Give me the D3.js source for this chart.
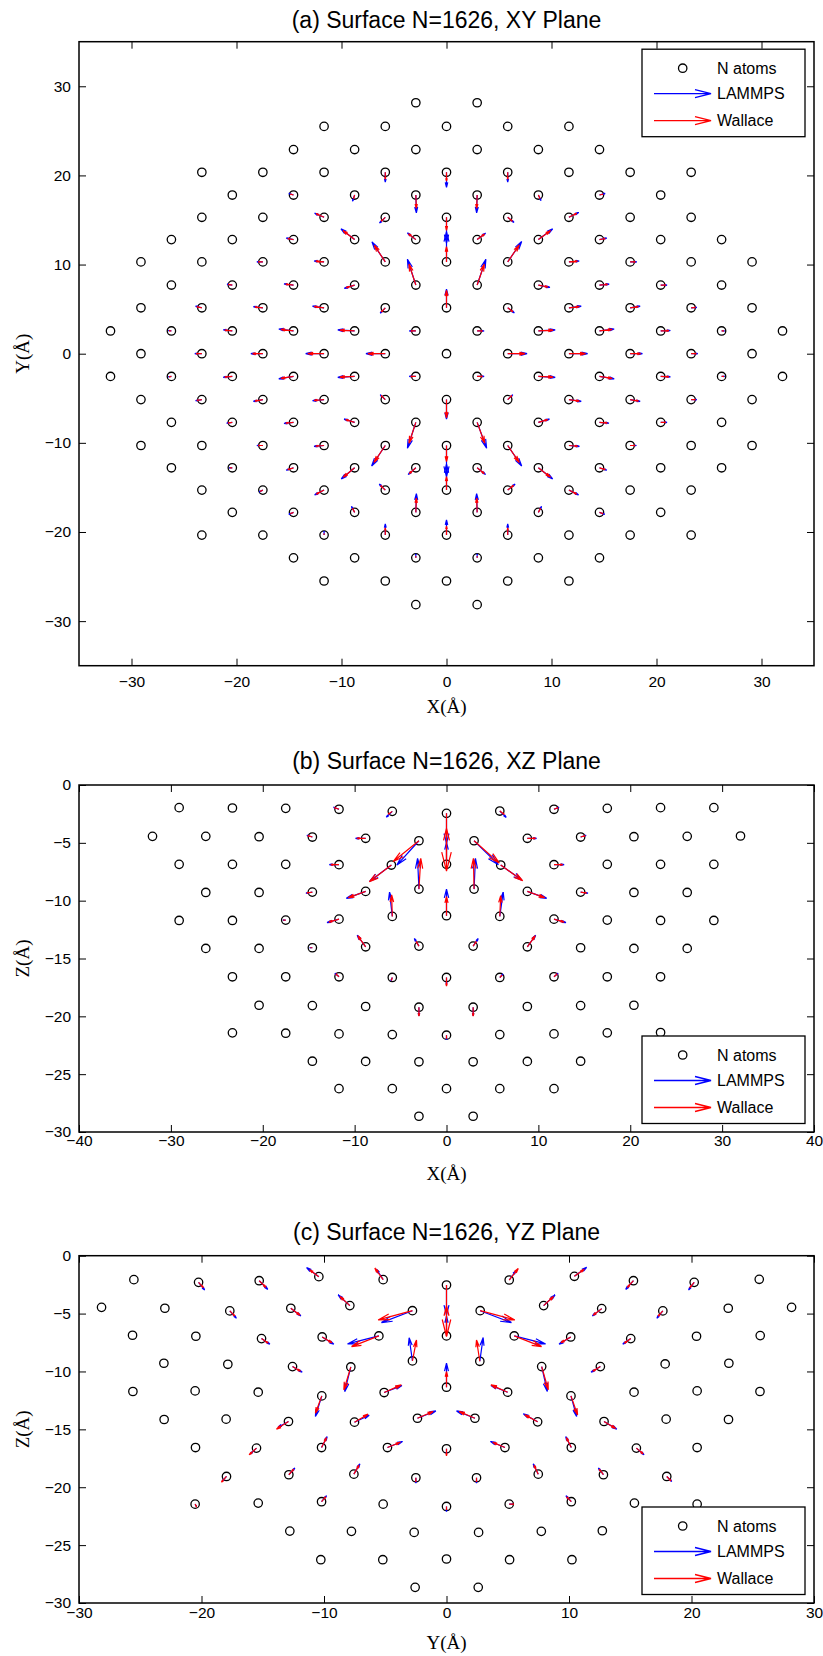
<!DOCTYPE html>
<html>
<head>
<meta charset="utf-8">
<script src="https://cdnjs.cloudflare.com/ajax/libs/d3/7.8.5/d3.min.js"></script>
<style>
    body { margin: 0; background: #fff; }
    svg { display: block; }
</style>
</head>
<body>
<script>
"use strict";
(function(){
    // ---------- (a) XY plane: atoms row by row ----------
    const xyRowY = [28.15, 25.5, 22.9, 20.35, 17.8, 15.3, 12.8, 10.3, 7.7, 5.15, 2.55, 0,
        -2.55, -5.15, -7.7, -10.3, -12.8, -15.3, -17.8, -20.35, -22.9, -25.5, -28.15]
    const xyRowX = [
        [-2.92, 2.92],
        [-11.66, -5.83, 0, 5.83, 11.66],
        [-14.57, -8.75, -2.92, 2.92, 8.75, 14.57],
        [-23.3, -17.49, -11.66, -5.83, 0, 5.83, 11.66, 17.49, 23.3],
        [-20.4, -14.57, -8.75, -2.92, 2.92, 8.75, 14.57, 20.4],
        [-23.3, -17.49, -11.66, -5.83, 0, 5.83, 11.66, 17.49, 23.3],
        [-26.2, -20.4, -14.57, -8.75, -2.92, 2.92, 8.75, 14.57, 20.4, 26.2],
        [-29.1, -23.3, -17.49, -11.66, -5.83, 0, 5.83, 11.66, 17.49, 23.3, 29.1],
        [-26.2, -20.4, -14.57, -8.75, -2.92, 2.92, 8.75, 14.57, 20.4, 26.2],
        [-29.1, -23.3, -17.49, -11.66, -5.83, 0, 5.83, 11.66, 17.49, 23.3, 29.1],
        [-32.0, -26.2, -20.4, -14.57, -8.75, -2.92, 2.92, 8.75, 14.57, 20.4, 26.2, 32.0],
        [-29.1, -23.3, -17.49, -11.66, -5.83, 0, 5.83, 11.66, 17.49, 23.3, 29.1],
        [-32.0, -26.2, -20.4, -14.57, -8.75, -2.92, 2.92, 8.75, 14.57, 20.4, 26.2, 32.0],
        [-29.1, -23.3, -17.49, -11.66, -5.83, 0, 5.83, 11.66, 17.49, 23.3, 29.1],
        [-26.2, -20.4, -14.57, -8.75, -2.92, 2.92, 8.75, 14.57, 20.4, 26.2],
        [-29.1, -23.3, -17.49, -11.66, -5.83, 0, 5.83, 11.66, 17.49, 23.3, 29.1],
        [-26.2, -20.4, -14.57, -8.75, -2.92, 2.92, 8.75, 14.57, 20.4, 26.2],
        [-23.3, -17.49, -11.66, -5.83, 0, 5.83, 11.66, 17.49, 23.3],
        [-20.4, -14.57, -8.75, -2.92, 2.92, 8.75, 14.57, 20.4],
        [-23.3, -17.49, -11.66, -5.83, 0, 5.83, 11.66, 17.49, 23.3],
        [-14.57, -8.75, -2.92, 2.92, 8.75, 14.57],
        [-11.66, -5.83, 0, 5.83, 11.66],
        [-2.92, 2.92]
    ]

    // arrows: [x, y, LAMMPS dx, LAMMPS dy, Wallace dx, Wallace dy]
    const xyArrows = [
        [-5.83, 20.35, 0, -1.1, 0, -0.8], [0, 20.35, 0, -1.7, 0, -1.0], [5.83, 20.35, 0, -1.1, 0, -0.8],
        [-8.75, 17.8, -0.2, -0.7, -0.1, -0.4], [-2.92, 17.8, 0.05, -2.0, 0.05, -1.5],
        [2.92, 17.8, -0.05, -2.0, -0.05, -1.5], [8.75, 17.8, 0.25, -0.63, 0.15, -0.4],
        [-14.57, 17.8, -0.45, 0.18, -0.3, 0.1], [14.57, 17.8, 0.54, 0.18, 0.35, 0.1],
        [-11.66, 15.3, -0.9, 0.45, -0.75, 0.4], [-5.83, 15.3, -0.55, -0.65, -0.4, -0.45],
        [0, 15.3, 0, -2.9, 0, -1.45], [5.83, 15.3, 0.6, -0.58, 0.45, -0.45],
        [11.66, 15.3, 0.92, 0.54, 0.75, 0.45],
        [-14.57, 12.8, -0.7, 0.18, -0.55, 0.12], [-8.75, 12.8, -1.3, 1.2, -1.1, 1.0],
        [-2.92, 12.8, -0.8, 0.75, -0.7, 0.65], [2.92, 12.8, 0.8, 0.72, 0.7, 0.62],
        [8.75, 12.8, 1.36, 1.2, 1.15, 1.0], [14.57, 12.8, 0.7, 0.18, 0.55, 0.12],
        [-17.49, 10.3, -0.57, 0, -0.45, 0], [-11.66, 10.3, -0.95, 0.1, -0.8, 0.08],
        [-5.83, 10.3, -1.27, 2.24, -1.05, 1.87], [0, 10.3, 0, 3.4, 0, 1.7],
        [5.83, 10.3, 1.33, 2.28, 1.1, 1.9], [11.66, 10.3, 0.98, 0.1, 0.82, 0.08],
        [17.49, 10.3, 0.63, 0, 0.5, 0],
        [-20.4, 7.7, -0.5, 0.1, -0.4, 0.08], [-14.57, 7.7, -0.9, 0.13, -0.75, 0.1],
        [-8.75, 7.7, -0.98, -0.37, -0.82, -0.3], [-2.92, 7.7, -0.8, 2.9, -0.65, 2.35],
        [2.92, 7.7, 0.83, 2.9, 0.68, 2.35], [8.75, 7.7, 1.1, -0.27, 0.92, -0.22],
        [14.57, 7.7, 0.92, 0.1, 0.78, 0.08], [20.4, 7.7, 0.6, 0, 0.48, 0],
        [-23.3, 5.15, -0.6, 0.18, -0.48, 0.12], [-17.49, 5.15, -0.9, 0.13, -0.75, 0.1],
        [-11.66, 5.15, -1.1, 0.18, -0.95, 0.14], [-5.83, 5.15, -0.48, -0.6, -0.38, -0.48],
        [0, 5.15, 0, 2.1, 0, 1.95], [5.83, 5.15, 0.63, -0.58, 0.5, -0.45],
        [11.66, 5.15, 1.17, 0.18, 1.0, 0.14], [17.49, 5.15, 0.95, 0.18, 0.8, 0.14],
        [23.3, 5.15, 0.54, 0.05, 0.42, 0.04],
        [-26.2, 2.55, -0.3, 0.05, -0.22, 0.04], [-20.4, 2.55, -0.86, 0.13, -0.72, 0.1],
        [-14.57, 2.55, -1.4, 0.22, -1.2, 0.18], [-8.75, 2.55, -1.6, 0.13, -1.4, 0.1],
        [-2.92, 2.55, -0.63, 0, -0.5, 0], [2.92, 2.55, 0.66, 0, 0.52, 0],
        [8.75, 2.55, 1.6, 0.13, 1.4, 0.1], [14.57, 2.55, 1.4, 0.22, 1.2, 0.18],
        [20.4, 2.55, 0.92, 0.05, 0.78, 0.04], [26.2, 2.55, 0.3, 0, 0.22, 0],
        [-23.3, 0, -0.67, 0, -0.55, 0], [-17.49, 0, -1.14, 0, -0.98, 0],
        [-11.66, 0, -1.75, 0, -1.55, 0], [-5.83, 0, -1.84, 0, -1.65, 0],
        [5.83, 0, 1.84, 0, 1.65, 0], [11.66, 0, 1.78, 0, 1.58, 0],
        [17.49, 0, 1.17, 0, 1.0, 0], [23.3, 0, 0.63, 0, 0.5, 0],
        [-26.2, -2.55, -0.3, -0.05, -0.22, -0.04], [-20.4, -2.55, -0.86, -0.1, -0.72, -0.08],
        [-14.57, -2.55, -1.4, -0.27, -1.2, -0.22], [-8.75, -2.55, -1.6, -0.1, -1.4, -0.08],
        [-2.92, -2.55, -0.63, 0, -0.5, 0], [2.92, -2.55, 0.66, 0, 0.52, 0],
        [8.75, -2.55, 1.6, -0.1, 1.4, -0.08], [14.57, -2.55, 1.4, -0.27, 1.2, -0.22],
        [20.4, -2.55, 0.92, -0.05, 0.78, -0.04], [26.2, -2.55, 0.3, 0, 0.22, 0],
        [-23.3, -5.15, -0.6, -0.13, -0.48, -0.1], [-17.49, -5.15, -0.9, -0.2, -0.75, -0.16],
        [-11.66, -5.15, -1.1, -0.13, -0.95, -0.1], [-5.83, -5.15, -0.48, 0.54, -0.38, 0.44],
        [0, -5.15, 0, -2.2, 0, -2.05], [5.83, -5.15, 0.48, 0.54, 0.38, 0.44],
        [11.66, -5.15, 1.17, -0.2, 1.0, -0.16], [17.49, -5.15, 0.95, -0.2, 0.8, -0.16],
        [23.3, -5.15, 0.54, 0, 0.42, 0],
        [-20.4, -7.7, -0.54, -0.1, -0.42, -0.08], [-14.57, -7.7, -0.9, -0.13, -0.75, -0.1],
        [-8.75, -7.7, -1.0, 0.36, -0.85, 0.3], [-2.92, -7.7, -0.8, -2.9, -0.65, -2.35],
        [2.92, -7.7, 0.9, -2.9, 0.72, -2.35], [8.75, -7.7, 1.05, 0.36, 0.88, 0.3],
        [14.57, -7.7, 0.9, -0.1, 0.75, -0.08], [20.4, -7.7, 0.6, 0, 0.48, 0],
        [-17.49, -10.3, -0.57, 0, -0.45, 0], [-11.66, -10.3, -0.95, -0.1, -0.8, -0.08],
        [-5.83, -10.3, -1.3, -2.3, -1.08, -1.9], [0, -10.3, 0, -3.5, 0, -1.8],
        [5.83, -10.3, 1.33, -2.3, 1.1, -1.9], [11.66, -10.3, 1.0, -0.1, 0.84, -0.08],
        [17.49, -10.3, 0.6, 0, 0.48, 0],
        [-20.4, -12.8, -0.3, 0, -0.22, 0], [-14.57, -12.8, -0.7, -0.27, -0.55, -0.2],
        [-8.75, -12.8, -1.27, -1.25, -1.08, -1.05], [-2.92, -12.8, -0.73, -0.76, -0.62, -0.65],
        [2.92, -12.8, 0.8, -0.76, 0.68, -0.65], [8.75, -12.8, 1.36, -1.25, 1.15, -1.05],
        [14.57, -12.8, 0.7, -0.27, 0.55, -0.2],
        [-17.49, -15.3, -0.35, -0.2, -0.25, -0.15], [-11.66, -15.3, -0.9, -0.54, -0.75, -0.45],
        [-5.83, -15.3, -0.57, 0.67, -0.45, 0.52], [0, -15.3, 0, 2.9, 0, 1.5],
        [5.83, -15.3, 0.7, 0.67, 0.55, 0.52], [11.66, -15.3, 0.92, -0.54, 0.75, -0.45],
        [-14.57, -17.8, -0.45, -0.22, -0.3, -0.15], [-8.75, -17.8, -0.3, 0.67, -0.2, 0.45],
        [-2.92, -17.8, 0.05, 2.1, 0.05, 1.6], [2.92, -17.8, -0.05, 2.1, -0.05, 1.6],
        [8.75, -17.8, 0.3, 0.67, 0.2, 0.45], [14.57, -17.8, 0.5, -0.22, 0.35, -0.15],
        [-11.66, -20.35, 0, 0.45, 0, 0.2], [-5.83, -20.35, 0, 1.25, 0, 0.8],
        [0, -20.35, 0, 1.7, 0, 1.0], [5.83, -20.35, 0, 1.25, 0, 0.8],
        [-2.92, -22.9, 0, 0.45, 0, 0.2], [2.92, -22.9, 0, 0.45, 0, 0.2]
    ]

    // ---------- (b) XZ plane ----------
    const xzAtoms = [
        [-29.1, -1.96], [-23.3, -1.99], [-17.5, -2.02], [-11.7, -2.1], [-5.9, -2.28], [0, -2.45],
        [5.8, -2.25], [11.7, -2.1], [17.5, -2.02], [23.3, -1.96], [29.1, -1.96],
        [-32.0, -4.44], [-26.2, -4.44], [-20.4, -4.47], [-14.6, -4.5], [-8.8, -4.61], [-3.0, -4.82],
        [3.0, -4.82], [8.8, -4.61], [14.6, -4.5], [20.4, -4.47], [26.2, -4.44], [32.0, -4.41],
        [-29.1, -6.86], [-23.3, -6.86], [-17.5, -6.86], [-11.7, -6.89], [-6.0, -6.92], [0, -6.86],
        [5.9, -6.92], [11.7, -6.89], [17.5, -6.86], [23.3, -6.86], [29.1, -6.86],
        [-26.2, -9.29], [-20.4, -9.29], [-14.6, -9.26], [-8.8, -9.2], [-3.0, -9.0],
        [3.0, -9.0], [8.8, -9.2], [14.6, -9.26], [20.4, -9.29], [26.2, -9.29],
        [-29.1, -11.71], [-23.3, -11.71], [-17.5, -11.68], [-11.7, -11.6], [-5.9, -11.36], [0, -11.3],
        [5.8, -11.36], [11.7, -11.6], [17.5, -11.68], [23.3, -11.71], [29.1, -11.71],
        [-26.2, -14.13], [-20.4, -14.13], [-14.6, -14.07], [-8.8, -13.99], [-3.0, -13.93],
        [2.9, -13.93], [8.8, -13.99], [14.6, -14.07], [20.4, -14.13], [26.2, -14.13],
        [-23.3, -16.58], [-17.5, -16.58], [-11.7, -16.58], [-5.9, -16.64], [0, -16.64],
        [5.8, -16.64], [11.7, -16.58], [17.5, -16.58], [23.3, -16.58],
        [-20.4, -19.04], [-14.6, -19.07], [-8.8, -19.15], [-3.0, -19.21],
        [2.9, -19.21], [8.8, -19.15], [14.6, -19.07], [20.4, -19.04],
        [-23.3, -21.43], [-17.5, -21.46], [-11.7, -21.52], [-5.9, -21.58], [0, -21.63],
        [5.8, -21.58], [11.7, -21.52], [17.5, -21.43], [23.3, -21.4],
        [-14.6, -23.88], [-8.8, -23.9], [-3.0, -23.93], [2.9, -23.93], [8.8, -23.9], [14.6, -23.88],
        [-11.7, -26.25], [-5.9, -26.25], [0, -26.25], [5.8, -26.25], [11.7, -26.25],
        [-3.0, -28.64], [2.9, -28.64]
    ]
    const xzArrows = [
        [-11.7, -2.1, -0.6, 0.17, -0.5, 0.14], [-5.9, -2.28, -0.65, -0.5, -0.45, -0.25],
        [0, -2.45, 0, -2.6, 0, -5.0], [5.8, -2.25, 0.7, -0.55, 0.5, -0.3],
        [11.7, -2.1, 0.55, 0.17, 0.45, 0.14],
        [-14.6, -4.5, -0.6, 0.15, -0.5, 0.12], [-8.8, -4.61, -1.1, 0, -0.95, 0],
        [-3.0, -4.82, -2.4, -2.1, -2.8, -1.8], [3.0, -4.82, 2.65, -2.07, 2.75, -1.93],
        [8.8, -4.61, 1.0, 0, 0.9, 0], [14.6, -4.5, 0.6, 0.15, 0.5, 0.12],
        [-11.7, -6.89, -1.05, 0, -0.9, 0], [-6.0, -6.92, -2.35, -1.4, -2.4, -1.45],
        [0, -6.86, 0, 1.9, 0, 3.1], [5.9, -6.92, 2.3, -1.3, 2.4, -1.36],
        [11.7, -6.89, 1.1, 0, 0.95, 0],
        [-14.6, -9.26, -0.7, -0.1, -0.6, -0.08], [-8.8, -9.2, -2.1, -0.6, -1.9, -0.55],
        [-3.0, -9.0, -0.15, 2.65, 0.2, 2.65], [3.0, -9.0, 0.15, 2.65, -0.07, 2.65],
        [8.8, -9.2, 2.1, -0.6, 1.9, -0.55], [14.6, -9.26, 0.8, -0.1, 0.65, -0.08],
        [-17.5, -11.68, -0.3, 0, -0.25, 0], [-11.7, -11.6, -1.3, -0.3, -1.1, -0.25],
        [-5.9, -11.36, -0.3, 2.1, -0.07, 1.85], [0, -11.3, 0, 2.3, 0, 1.65],
        [5.8, -11.36, 0.37, 2.1, 0.1, 1.8], [11.7, -11.6, 1.3, -0.3, 1.1, -0.25],
        [-14.6, -14.07, -0.3, 0, -0.2, 0], [-8.8, -13.99, -0.92, 1.0, -0.85, 0.95],
        [-3.0, -13.93, -0.5, 0.66, -0.3, 0.4], [2.9, -13.93, 0.55, 0.66, 0.35, 0.4],
        [8.8, -13.99, 0.9, 1.0, 0.85, 0.95],
        [-11.7, -16.58, -0.45, 0.3, -0.35, 0.25], [-5.9, -16.64, -0.15, -0.3, -0.1, -0.25],
        [0, -16.64, 0, -0.6, 0, -0.75], [5.8, -16.64, 0.35, 0.3, 0.25, 0.2],
        [11.7, -16.58, 0.45, 0.3, 0.35, 0.25],
        [-3.0, -19.21, 0, -0.75, 0, -0.78], [2.9, -19.21, 0, -0.75, 0, -0.78],
        [0, -21.63, 0, -0.4, 0, -0.3]
    ]

    // ---------- (c) YZ plane ----------
    const yzAtoms = [
        [-25.52, -2.07], [-20.24, -2.3], [-15.29, -2.16], [-10.42, -1.81], [-5.17, -2.07], [0, -2.53],
        [5.12, -2.1], [10.44, -1.78], [15.26, -2.16], [20.22, -2.3], [25.53, -2.04],
        [-28.16, -4.46], [-22.99, -4.54], [-17.69, -4.77], [-12.71, -4.54], [-7.89, -4.31], [-2.78, -4.75],
        [2.75, -4.75], [7.93, -4.31], [12.67, -4.57], [17.66, -4.77], [23.0, -4.54], [28.17, -4.46],
        [-25.63, -6.87], [-20.46, -6.96], [-15.1, -7.16], [-10.15, -7.02], [-5.52, -6.93], [0, -6.93],
        [5.53, -6.93], [10.14, -7.02], [15.04, -7.16], [20.41, -6.96], [25.61, -6.9],
        [-23.07, -9.29], [-17.85, -9.38], [-12.57, -9.58], [-7.81, -9.61], [-2.78, -9.09],
        [2.72, -9.12], [7.77, -9.58], [12.56, -9.58], [17.85, -9.35], [23.05, -9.29],
        [-25.6, -11.73], [-20.52, -11.68], [-15.37, -11.79], [-10.18, -12.11], [-5.09, -11.82], [0, -11.36],
        [4.99, -11.79], [10.16, -12.11], [15.31, -11.79], [20.46, -11.68], [25.59, -11.73],
        [-23.05, -14.15], [-17.99, -14.12], [-12.9, -14.32], [-7.51, -14.38], [-2.37, -14.04],
        [2.32, -14.04], [7.44, -14.35], [12.86, -14.32], [17.93, -14.12], [23.02, -14.15],
        [-20.49, -16.57], [-15.51, -16.62], [-10.2, -16.57], [-4.82, -16.57], [0, -16.68],
        [4.77, -16.57], [10.19, -16.57], [15.5, -16.62], [20.46, -16.57],
        [-17.96, -19.07], [-12.87, -18.92], [-7.56, -18.87], [-2.5, -19.18],
        [2.45, -19.18], [7.49, -18.87], [12.81, -18.92], [17.98, -19.07],
        [-20.52, -21.46], [-15.37, -21.37], [-10.2, -21.25], [-5.17, -21.46], [0, -21.66],
        [5.12, -21.46], [10.19, -21.25], [15.34, -21.37], [20.46, -21.46],
        [-12.79, -23.79], [-7.76, -23.81], [-2.64, -23.9], [2.62, -23.9], [7.74, -23.81], [12.72, -23.76],
        [-10.26, -26.26], [-5.2, -26.26], [0, -26.2], [5.15, -26.26], [10.24, -26.26],
        [-2.56, -28.65], [2.59, -28.65]
    ]
    const yzArrows = [
        [-20.24, -2.3, 0.5, -0.66, 0.4, -0.46], [-15.29, -2.16, 0.7, -0.75, 0.55, -0.58],
        [-10.42, -1.81, -1.0, 0.78, -0.75, 0.58], [-5.17, -2.07, -0.55, 0.9, -0.68, 1.0],
        [0, -2.53, 0, -2.6, 0, -4.45], [5.12, -2.1, 0.55, 0.8, 0.74, 1.0],
        [10.44, -1.78, 1.0, 0.78, 0.8, 0.6], [15.26, -2.16, -0.63, -0.75, -0.5, -0.58],
        [20.22, -2.3, -0.46, -0.66, -0.36, -0.46],
        [-17.69, -4.77, 0.54, -0.63, 0.4, -0.43], [-12.71, -4.54, 0.82, -0.66, 0.75, -0.6],
        [-7.89, -4.31, -0.95, 0.92, -0.8, 0.78], [-2.78, -4.75, -2.53, -1.03, -2.8, -0.8],
        [2.75, -4.75, 2.55, -1.03, 2.83, -0.8], [7.93, -4.31, 0.93, 0.92, 0.8, 0.78],
        [12.67, -4.57, -0.76, -0.63, -0.7, -0.58], [17.66, -4.77, -0.49, -0.63, -0.38, -0.45],
        [-15.1, -7.16, 0.68, -0.49, 0.55, -0.4], [-10.15, -7.02, 0.95, -0.63, 0.8, -0.5],
        [-5.52, -6.93, -2.56, -0.69, -2.23, -0.92], [0, -6.93, 0, 1.7, 0, 2.6],
        [5.53, -6.93, 2.56, -0.69, 2.23, -0.92], [10.14, -7.02, -0.95, -0.63, -0.8, -0.5],
        [15.04, -7.16, -0.65, -0.49, -0.52, -0.4],
        [-12.57, -9.58, 0.79, -0.49, 0.65, -0.4], [-7.81, -9.61, -0.5, -2.13, -0.57, -1.98],
        [-2.78, -9.09, -0.27, 2.0, 0.33, 1.8], [2.72, -9.12, 0.27, 2.04, -0.27, 1.84],
        [7.77, -9.58, 0.46, -2.15, 0.54, -2.0], [12.56, -9.58, -0.76, -0.49, -0.62, -0.4],
        [-10.18, -12.11, -0.52, -1.78, -0.52, -1.5], [-5.09, -11.82, 1.45, 0.6, 1.4, 0.66],
        [0, -11.36, 0, 2.07, 0, 1.35], [4.99, -11.79, -1.36, 0.58, -1.36, 0.63],
        [10.16, -12.11, 0.46, -1.78, 0.54, -1.64],
        [-12.9, -14.32, -0.85, -0.5, -0.98, -0.66], [-7.51, -14.38, 1.2, 0.6, 1.1, 0.69],
        [-2.37, -14.04, 1.5, 0.63, 1.28, 0.58], [2.32, -14.04, -1.5, 0.63, -1.28, 0.58],
        [7.44, -14.35, -1.17, 0.69, -1.05, 0.6], [12.86, -14.32, 1.04, -0.66, 0.95, -0.6],
        [-15.51, -16.62, -0.5, -0.5, -0.6, -0.58], [-10.2, -16.57, 0.46, 0.95, 0.4, 0.85],
        [-4.82, -16.57, 1.22, 0.52, 1.05, 0.45], [0, -16.68, 0, -0.4, 0, -0.6],
        [4.77, -16.57, -1.17, 0.52, -1.0, 0.45], [10.19, -16.57, -0.46, 0.95, -0.4, 0.85],
        [15.5, -16.62, 0.63, -0.58, 0.55, -0.5],
        [-17.96, -19.07, -0.35, -0.4, -0.41, -0.49], [-12.87, -18.92, 0.49, 0.58, 0.4, 0.48],
        [-7.56, -18.87, 0.49, 0.89, 0.42, 0.78], [-2.5, -19.18, 0, -0.46, 0, -0.35],
        [2.45, -19.18, 0, -0.46, 0, -0.35], [7.49, -18.87, -0.41, 0.89, -0.35, 0.78],
        [12.81, -18.92, -0.41, 0.58, -0.35, 0.48], [17.98, -19.07, 0.41, -0.43, 0.35, -0.38],
        [-10.2, -21.25, 0.41, 0.52, 0.35, 0.42], [10.19, -21.25, -0.44, 0.52, -0.38, 0.42],
        [0, -21.66, 0, -0.45, 0, -0.3], [-20.52, -21.46, 0.1, -0.2, 0.12, -0.25],
        [5.12, -21.46, 0.3, 0, 0.38, 0]
    ]

    // tick values
    const xyTicks = [-30, -20, -10, 0, 10, 20, 30]
    const xzTicksX = [-40, -30, -20, -10, 0, 10, 20, 30, 40]
    const zTicks = [-30, -25, -20, -15, -10, -5, 0]
    const yzTicksX = [-30, -20, -10, 0, 10, 20, 30]
    const legendNames = ["N atoms", "LAMMPS", "Wallace"]

    // dimensions
    const measurements = {
        width: 823,
        height: 1656,
        left: 79,
        right: 814
    }
    const colors = { lammps: "#0000ff", wallace: "#ff0000", atom: "#000000" }
    const sans = "'Liberation Sans', Arial, Helvetica, sans-serif"
    const serif = "'Liberation Serif', 'Times New Roman', serif"

    const svgContainer = d3.select("body").append("svg")
        .attr("width", measurements.width)
        .attr("height", measurements.height)

    const xyAtoms = xyRowY.flatMap((y, i) => xyRowX[i].map(x => [x, y]))

    const panels = [
        { top: 41.7, bottom: 665.7, xDomain: [-35, 35], yDomain: [-35, 35],
          xTicks: xyTicks, yTicks: xyTicks, titleY: 28, tickPad: 10, xLabelY: 713,
          title: "(a) Surface N=1626, XY Plane", xLabel: "X(Å)", yLabel: "Y(Å)",
          legend: "top", atoms: xyAtoms, arrows: xyArrows },
        { top: 785, bottom: 1132, xDomain: [-40, 40], yDomain: [-30, 0],
          xTicks: xzTicksX, yTicks: zTicks, titleY: 769, tickPad: 3, xLabelY: 1180,
          title: "(b) Surface N=1626, XZ Plane", xLabel: "X(Å)", yLabel: "Z(Å)",
          legend: "bottom", atoms: xzAtoms, arrows: xzArrows },
        { top: 1255.7, bottom: 1603, xDomain: [-30, 30], yDomain: [-30, 0],
          xTicks: yzTicksX, yTicks: zTicks, titleY: 1240, tickPad: 3.5, xLabelY: 1649,
          title: "(c) Surface N=1626, YZ Plane", xLabel: "Y(Å)", yLabel: "Z(Å)",
          legend: "bottom", atoms: yzAtoms, arrows: yzArrows }
    ]

    panels.forEach(drawPanel)

    // quiver style arrow (same head proportions as matlab)
    function arrowPath(x0, y0, x1, y1) {
        const u = x1 - x0, v = y1 - y0
        const a = 0.33, b = 0.25
        return "M" + x0 + "," + y0 + "L" + x1 + "," + y1 +
            "M" + (x1 - a * (u + b * v)) + "," + (y1 - a * (v - b * u)) +
            "L" + x1 + "," + y1 +
            "L" + (x1 - a * (u - b * v)) + "," + (y1 - a * (v + b * u))
    }

    function styleAxis(g) {
        g.select(".domain").remove()
        g.attr("font-size", 15.5).attr("font-family", sans)
        g.selectAll(".tick line").attr("stroke", "#000").attr("stroke-width", 1)
        g.selectAll(".tick text").attr("fill", "#000")
    }

    function drawPanel(p) {
        const scaleX = d3.scaleLinear().domain(p.xDomain).range([measurements.left, measurements.right])
        const scaleY = d3.scaleLinear().domain(p.yDomain).range([p.bottom, p.top])
        const g = svgContainer.append("g")
        const midX = (measurements.left + measurements.right) / 2

        // title
        g.append("text")
            .attr("x", midX)
            .attr("y", p.titleY)
            .attr("text-anchor", "middle")
            .style("font-family", sans)
            .style("font-size", "23px")
            .text(p.title)

        // axes, ticks pointing inward on all four sides
        g.append("g")
            .attr("transform", "translate(0," + p.bottom + ")")
            .call(d3.axisBottom(scaleX).tickValues(p.xTicks).tickSize(-7).tickPadding(p.tickPad))
            .call(styleAxis)
        g.append("g")
            .attr("transform", "translate(0," + p.top + ")")
            .call(d3.axisTop(scaleX).tickValues(p.xTicks).tickSize(-7).tickFormat(""))
            .call(styleAxis)
        g.append("g")
            .attr("transform", "translate(" + measurements.left + ",0)")
            .call(d3.axisLeft(scaleY).tickValues(p.yTicks).tickSize(-7).tickPadding(8))
            .call(styleAxis)
        g.append("g")
            .attr("transform", "translate(" + measurements.right + ",0)")
            .call(d3.axisRight(scaleY).tickValues(p.yTicks).tickSize(-7).tickFormat(""))
            .call(styleAxis)

        g.append("rect")
            .attr("x", measurements.left)
            .attr("y", p.top)
            .attr("width", measurements.right - measurements.left)
            .attr("height", p.bottom - p.top)
            .attr("fill", "none")
            .attr("stroke", "#000")
            .attr("stroke-width", 1.5)

        // axis names
        g.append("text")
            .attr("x", midX)
            .attr("y", p.xLabelY)
            .attr("text-anchor", "middle")
            .style("font-family", serif)
            .style("font-size", "19px")
            .text(p.xLabel)
        g.append("text")
            .attr("transform", "translate(29," + (p.top + p.bottom) / 2 + ")rotate(-90)")
            .attr("text-anchor", "middle")
            .style("font-family", serif)
            .style("font-size", "19px")
            .text(p.yLabel)

        // atoms
        g.selectAll(".atom")
            .data(p.atoms)
            .join("circle")
            .attr("class", "atom")
            .attr("cx", d => scaleX(d[0]))
            .attr("cy", d => scaleY(d[1]))
            .attr("r", 4.2)
            .attr("fill", "none")
            .attr("stroke", colors.atom)
            .attr("stroke-width", 1.3)

        // LAMMPS then Wallace arrows
        g.selectAll(".lammps")
            .data(p.arrows)
            .join("path")
            .attr("class", "lammps")
            .attr("d", d => arrowPath(scaleX(d[0]), scaleY(d[1]), scaleX(d[0] + d[2]), scaleY(d[1] + d[3])))
            .attr("fill", "none")
            .attr("stroke", colors.lammps)
            .attr("stroke-width", 1.2)
        g.selectAll(".wallace")
            .data(p.arrows)
            .join("path")
            .attr("class", "wallace")
            .attr("d", d => arrowPath(scaleX(d[0]), scaleY(d[1]), scaleX(d[0] + d[4]), scaleY(d[1] + d[5])))
            .attr("fill", "none")
            .attr("stroke", colors.wallace)
            .attr("stroke-width", 1.2)

        drawLegend(g, p)
    }

    function drawLegend(g, p) {
        const lw = 163, lh = 87.5
        const lx = measurements.right - 9 - lw
        const ly = p.legend === "top" ? p.top + 7.5 : p.bottom - 8.5 - lh
        const rows = [19, 44.5, 71.5]

        g.append("rect")
            .attr("x", lx).attr("y", ly)
            .attr("width", lw).attr("height", lh)
            .attr("fill", "#fff")
            .attr("stroke", "#000")
            .attr("stroke-width", 1.3)

        g.append("circle")
            .attr("cx", lx + 40.7).attr("cy", ly + rows[0])
            .attr("r", 4.2)
            .attr("fill", "none")
            .attr("stroke", colors.atom)
            .attr("stroke-width", 1.3)

        const arrowColors = [colors.lammps, colors.wallace]
        arrowColors.forEach((c, i) => {
            const y = ly + rows[i + 1], x0 = lx + 12, x1 = lx + 69
            g.append("path")
                .attr("d", "M" + x0 + "," + y + "L" + x1 + "," + y +
                    "M" + (x1 - 16) + "," + (y - 4) + "L" + x1 + "," + y + "L" + (x1 - 16) + "," + (y + 4))
                .attr("fill", "none")
                .attr("stroke", c)
                .attr("stroke-width", 1.3)
        })

        g.selectAll(".legtext")
            .data(legendNames)
            .join("text")
            .attr("x", lx + 75)
            .attr("y", (d, i) => ly + rows[i])
            .attr("dy", "0.36em")
            .style("font-family", sans)
            .style("font-size", "16px")
            .text(d => d)
    }
})()
</script>
</body>
</html>
